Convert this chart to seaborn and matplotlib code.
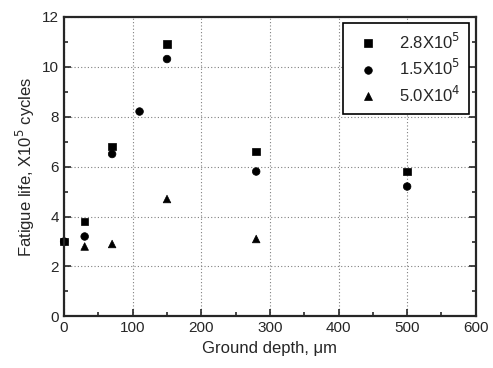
import numpy as np
import pandas as pd
import seaborn as sns
import matplotlib.pyplot as plt
from matplotlib.ticker import MultipleLocator

# fatigue life (x10^5 cycles) vs ground depth (um), one series per stress level
sq_depth = [0, 30, 70, 150, 280, 500]
sq_life = [3.0, 3.8, 6.8, 10.9, 6.6, 5.8]
ci_depth = [0, 30, 70, 110, 150, 280, 500]
ci_life = [3.0, 3.2, 6.5, 8.2, 10.3, 5.8, 5.2]
tr_depth = [30, 70, 150, 280]
tr_life = [2.8, 2.9, 4.7, 3.1]
labels = ["2.8X10$^5$", "1.5X10$^5$", "5.0X10$^4$"]

df = pd.concat([
    pd.DataFrame({"depth": sq_depth, "life": sq_life, "series": labels[0]}),
    pd.DataFrame({"depth": ci_depth, "life": ci_life, "series": labels[1]}),
    pd.DataFrame({"depth": tr_depth, "life": tr_life, "series": labels[2]}),
])

sns.set_style("ticks")
plt.rcParams['font.family'] = ['Liberation Sans', 'DejaVu Sans']

fig, ax = plt.subplots(figsize=(4.93, 3.68), dpi=100)
sns.scatterplot(data=df, x="depth", y="life", hue="series", style="series",
                markers=["s", "o", "^"], palette=["black"] * 3, s=30,
                edgecolor="black", linewidth=0.5, clip_on=False, ax=ax)

ax.set_xlim(0, 600)
ax.set_ylim(0, 12)
ax.xaxis.set_major_locator(MultipleLocator(100))
ax.xaxis.set_minor_locator(MultipleLocator(50))
ax.yaxis.set_major_locator(MultipleLocator(2))
ax.yaxis.set_minor_locator(MultipleLocator(1))
ax.tick_params(which="both", direction="in", top=True, right=True, width=1.2,
               labelsize=11)
ax.tick_params(which="major", length=5)
ax.tick_params(which="minor", length=3)
ax.tick_params(axis="x", which="both", top=False)
ax.grid(True, which="major", linestyle=(0, (1, 2)), color="gray", linewidth=0.8)
for s in ax.spines.values():
    s.set_linewidth(1.6)

ax.set_xlabel("Ground depth, \u03bcm", fontsize=12)
ax.set_ylabel("Fatigue life, X10$^5$ cycles", fontsize=12)

leg = ax.legend(loc="upper right", fontsize=12, frameon=True, fancybox=False,
                edgecolor="black", handletextpad=0.9, borderpad=0.5,
                labelspacing=0.4, borderaxespad=0.4)
leg.get_frame().set_linewidth(1.2)
leg.get_frame().set_alpha(1)

plt.subplots_adjust(left=0.13, right=0.965, top=0.955, bottom=0.14)
fig.savefig("out.png", dpi=100)
